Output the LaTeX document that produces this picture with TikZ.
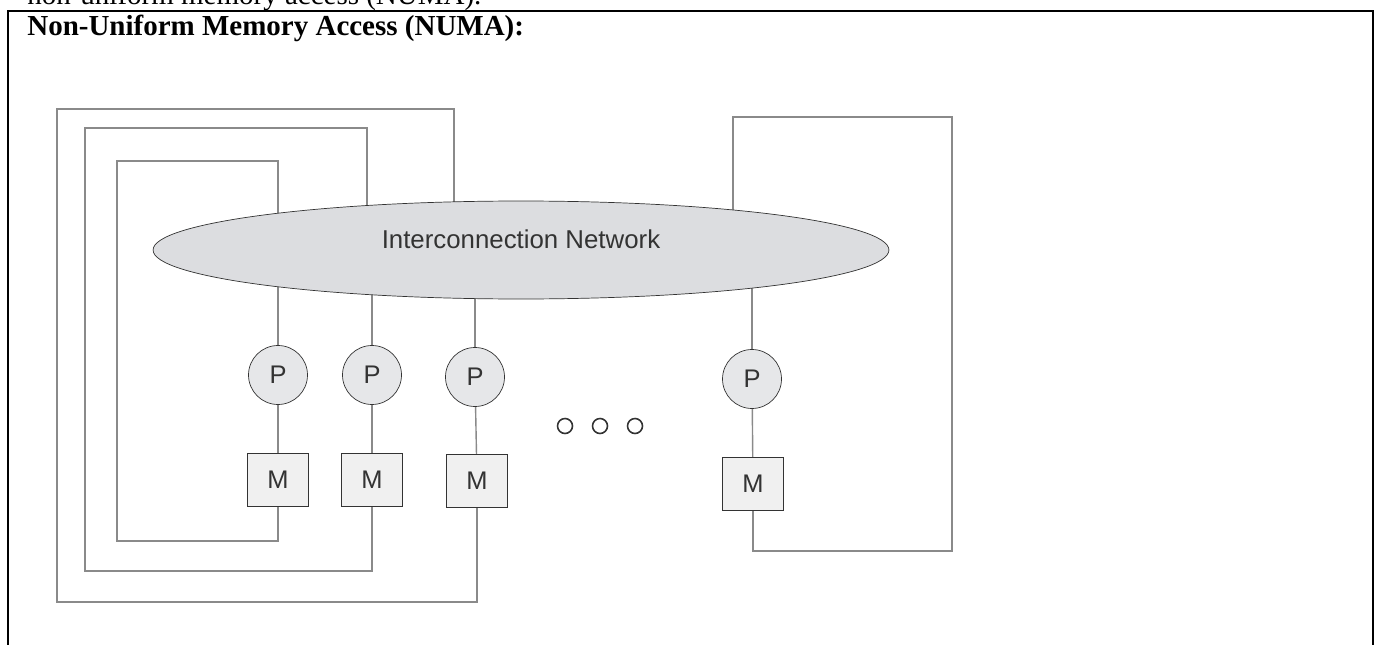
\documentclass[tikz,border=0pt]{standalone}
\usepackage{fontspec}
\setmainfont{Liberation Serif}
\newfontfamily\arialfont{Liberation Sans}
\usepackage{tikz}
\usetikzlibrary{shapes.geometric}
\usetikzlibrary{backgrounds}
\definecolor{netgray}{HTML}{DCDDE0}
\definecolor{procgray}{HTML}{E6E7E9}
\definecolor{memgray}{HTML}{F0F0F0}
\definecolor{wiregray}{HTML}{8A8A8A}
\definecolor{inkgray}{HTML}{333333}
\tikzset{
  proc/.style={circle,draw=inkgray,fill=procgray,minimum size=1.18cm,inner sep=0pt,
    font=\arialfont\fontsize{14.5}{16}\selectfont,text=inkgray},
  mem/.style={rectangle,draw=inkgray,fill=memgray,minimum width=1.22cm,minimum height=1.06cm,
    inner sep=0pt,font=\arialfont\fontsize{14.5}{16}\selectfont,text=inkgray},
  wire/.style={draw=wiregray,line width=0.8pt},
}

\begin{document}
\begin{tikzpicture}[x=0.02cm,y=-0.02cm]
\useasboundingbox (0,0) rectangle (1375,645);
\node[anchor=base west,inner sep=0pt,font=\fontsize{16.5}{19}\selectfont] (intro) at (27,5) {non-uniform memory access (NUMA).};
\draw[black,line width=1.5pt] (8,680) -- (8,11) -- (1373,11) -- (1373,680);
\node[anchor=base west,inner sep=0pt,font=\bfseries\fontsize{16.5}{19}\selectfont] (title) at (27,36) {Non-Uniform Memory Access (NUMA):};

\node[ellipse,draw=inkgray,fill=netgray,minimum width=14.72cm,minimum height=1.96cm] (net) at (521,250) {};
\node[font=\arialfont\fontsize{14.7}{16}\selectfont,text=inkgray] (netlabel) at (521,239) {Interconnection Network};

\node[proc] (p1) at (278,375) {P};
\node[proc] (p2) at (372,375) {P};
\node[proc] (p3) at (475,377) {P};
\node[proc] (p4) at (752,379) {P};
\node[mem] (m1) at (278,480) {M};
\node[mem] (m2) at (372,480) {M};
\node[mem] (m3) at (477,481) {M};
\node[mem] (m4) at (753,484) {M};

\foreach \x in {565,600,635}
  \draw[inkgray,line width=0.9pt] (\x,426) circle (0.15cm);

\begin{scope}[on background layer]
\foreach \i in {1,...,4} {
  \draw[wire] (p\i.north) -- (p\i.north |- net.center);
  \draw[wire] (p\i) -- (m\i);
}
\draw[wire] (m1.south) |- (117,541) |- (278,161) -- (278,250);
\draw[wire] (m2.south) |- (85,571) |- (367,128) -- (367,250);
\draw[wire] (m3.south) |- (57,602) |- (454,109) -- (454,250);
\draw[wire] (m4.south) |- (952,551) |- (733,117) -- (733,250);
\end{scope}
\end{tikzpicture}
\end{document}
